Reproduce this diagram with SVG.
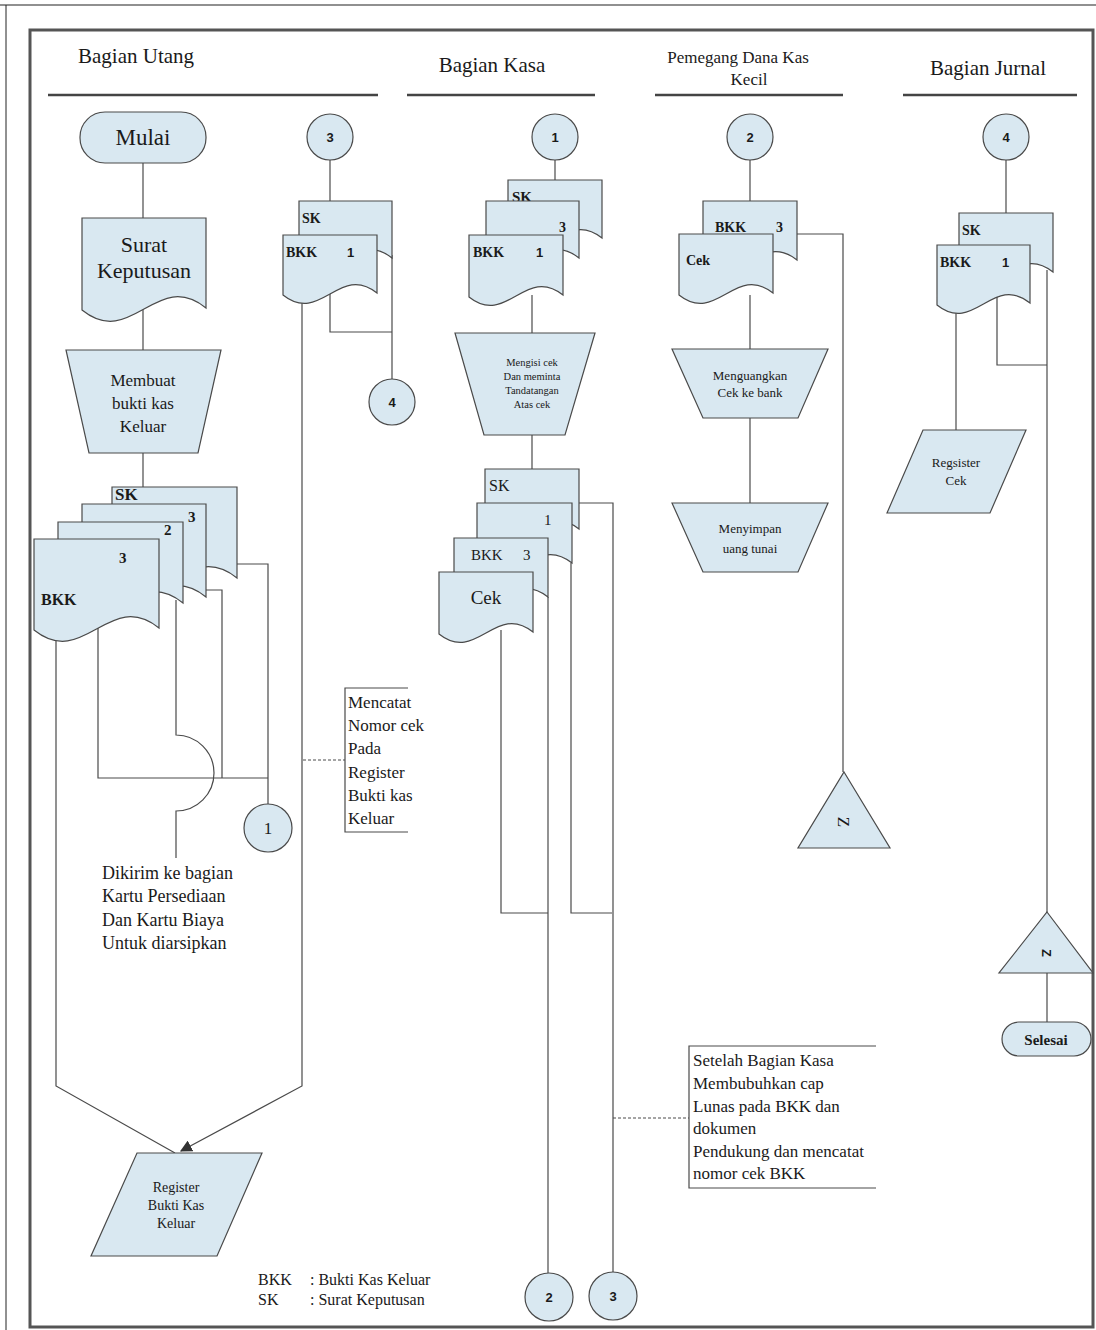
<svg xmlns="http://www.w3.org/2000/svg" width="1096" height="1330" viewBox="0 0 1096 1330">
<style>
.sh{fill:#d9e8f1;stroke:#4a4a4a;stroke-width:1.2}
.ln{fill:none;stroke:#4a4a4a;stroke-width:1.2}
.dash{fill:none;stroke:#4a4a4a;stroke-width:1;stroke-dasharray:3,2}
.hd{font-family:"Liberation Serif",serif;font-size:21px;fill:#1a1a1a}
.t{font-family:"Liberation Serif",serif;fill:#1a1a1a}
.b{font-family:"Liberation Serif",serif;font-weight:bold;fill:#1a1a1a}
.n{font-family:"Liberation Sans",sans-serif;font-weight:bold;fill:#1a1a1a}
.c{text-anchor:middle}
</style>
<defs>
<marker id="arr" viewBox="0 0 10 10" refX="9" refY="5" markerWidth="12" markerHeight="12" orient="auto" markerUnits="userSpaceOnUse">
<path d="M0,0 L10,5 L0,10 Z" fill="#333"/>
</marker>
</defs>
<rect width="1096" height="1330" fill="#fff"/>
<g id="frame">
<line x1="0" y1="5" x2="1096" y2="5" stroke="#222" stroke-width="1.2"/>
<line x1="6" y1="5" x2="6" y2="1330" stroke="#222" stroke-width="1"/>
<rect x="30" y="30" width="1063" height="1297" fill="none" stroke="#555" stroke-width="3"/>
</g>
<g id="headers">
<text class="hd" x="78" y="63">Bagian Utang</text>
<line x1="48" y1="95" x2="378" y2="95" stroke="#444" stroke-width="2.5"/>
<text class="hd c" x="492" y="72">Bagian Kasa</text>
<line x1="407" y1="95" x2="595" y2="95" stroke="#444" stroke-width="2.5"/>
<text class="t c" x="738" y="63" font-size="17">Pemegang Dana Kas</text>
<text class="t c" x="749" y="85" font-size="17">Kecil</text>
<line x1="655" y1="95" x2="843" y2="95" stroke="#444" stroke-width="2.5"/>
<text class="hd c" x="988" y="75">Bagian Jurnal</text>
<line x1="903" y1="95" x2="1077" y2="95" stroke="#444" stroke-width="2.5"/>
</g>
<g id="connectors">
<path class="ln" d="M143,163 V218"/>
<path class="ln" d="M143,308 V350"/>
<path class="ln" d="M143,453 V487"/>
<path class="ln" d="M56,635 V1086 L175,1153"/>
<path class="ln" d="M302,300 V1086 L181,1151" marker-end="url(#arr)"/>
<path class="ln" d="M98,628 V778 H268"/>
<path class="ln" d="M206,590 H222 V778"/>
<path class="ln" d="M237,564 H268 V804"/>
<path class="ln" d="M176,600 V735 A38,38 0 0 1 176,811 V858"/>
<path class="ln" d="M330,160 V201"/>
<path class="ln" d="M392,255 V379"/>
<path class="ln" d="M330,290 V332 H392"/>
<path class="dash" d="M303,760 H345"/>
<path class="ln" d="M408,688 H345 V832 H408"/>
<path class="ln" d="M555,160 V180"/>
<path class="ln" d="M532,295 V333"/>
<path class="ln" d="M532,435 V469"/>
<path class="ln" d="M501,630 V913 H548"/>
<path class="ln" d="M548,597 V1273"/>
<path class="ln" d="M571,563 V913 H612"/>
<path class="ln" d="M579,503 H613 V1272"/>
<path class="dash" d="M613,1118 H689"/>
<path class="ln" d="M876,1046 H689 V1188 H876"/>
<path class="ln" d="M750,160 V201"/>
<path class="ln" d="M797,234 H843 V772"/>
<path class="ln" d="M750,295 V349"/>
<path class="ln" d="M750,418 V503"/>
<path class="ln" d="M1006,160 V213"/>
<path class="ln" d="M997,295 V365 H1047"/>
<path class="ln" d="M1047,270 V912"/>
<path class="ln" d="M956,305 V430"/>
<path class="ln" d="M1047,973 V1022"/>
</g>
<g id="mulai"><rect class="sh" x="80" y="112" width="126" height="51" rx="25"/><text class="t c" x="143" y="145" font-size="23">Mulai</text></g>
<g id="surat-keputusan"><path class="sh" d="M82,218 H206 V308 C156.4,268 131.6,350 82,310 Z"/><text class="t c" x="144" y="252" font-size="22">Surat</text><text class="t c" x="144" y="278" font-size="22">Keputusan</text></g>
<g id="membuat-bkk"><path class="sh" d="M66,350 H221 L198,453 H89 Z"/><text class="t c" x="143" y="386" font-size="17">Membuat</text><text class="t c" x="143" y="409" font-size="17">bukti kas</text><text class="t c" x="143" y="432" font-size="17">Keluar</text></g>
<g id="utang-docs">
<path class="sh" d="M112,487 H237 V578 C187,538 162,620 112,580 Z"/>
<text class="b" x="115" y="500" font-size="17">SK</text>
<path class="sh" d="M82,504 H206 V597 C156.4,557 131.6,639 82,599 Z"/>
<text class="b" x="188" y="522" font-size="15">3</text>
<path class="sh" d="M58,522 H183 V603 C133,563 108,645 58,605 Z"/>
<text class="b" x="164" y="535" font-size="15">2</text>
<path class="sh" d="M34,539 H159 V628 C109,588 84,670 34,630 Z"/>
<text class="b" x="119" y="563" font-size="15">3</text>
<text class="b" x="41" y="605" font-size="16">BKK</text>
</g>
<g id="conn-1-utang"><circle class="sh" cx="268" cy="828" r="24"/><text class="t c" x="268" y="834" font-size="17">1</text></g>
<g id="note-dikirim">
<text class="t" x="102" y="879" font-size="18">Dikirim ke bagian</text>
<text class="t" x="102" y="902" font-size="18">Kartu Persediaan</text>
<text class="t" x="102" y="926" font-size="18">Dan Kartu Biaya</text>
<text class="t" x="102" y="949" font-size="18">Untuk diarsipkan</text>
</g>
<g id="note-mencatat">
<text class="t" x="348" y="708" font-size="17">Mencatat</text>
<text class="t" x="348" y="731" font-size="17">Nomor cek</text>
<text class="t" x="348" y="754" font-size="17">Pada</text>
<text class="t" x="348" y="778" font-size="17">Register</text>
<text class="t" x="348" y="801" font-size="17">Bukti kas</text>
<text class="t" x="348" y="824" font-size="17">Keluar</text>
</g>
<g id="register-bkk"><path class="sh" d="M137,1153 H262 L217,1256 H91 Z"/><text class="t c" x="176" y="1192" font-size="14">Register</text><text class="t c" x="176" y="1210" font-size="14">Bukti Kas</text><text class="t c" x="176" y="1228" font-size="14">Keluar</text></g>
<g id="legend">
<text class="t" x="258" y="1285" font-size="16">BKK</text><text class="t" x="310" y="1285" font-size="16">: Bukti Kas Keluar</text>
<text class="t" x="258" y="1305" font-size="16">SK</text><text class="t" x="310" y="1305" font-size="16">: Surat Keputusan</text>
</g>
<g id="conn-3-top"><circle class="sh" cx="330" cy="137" r="23"/><text class="n c" x="330" y="142" font-size="13">3</text></g>
<g id="utang-docs-2">
<path class="sh" d="M299,201 H392 V258 C354.8,228 336.2,290 299,260 Z"/>
<text class="b" x="302" y="223" font-size="14">SK</text>
<path class="sh" d="M283,235 H377 V293 C339.4,263 320.6,325 283,295 Z"/>
<text class="b" x="286" y="257" font-size="14">BKK</text>
<text class="n" x="347" y="257" font-size="13">1</text>
</g>
<g id="conn-4-utang"><circle class="sh" cx="392" cy="402" r="23"/><text class="n c" x="392" y="407" font-size="13">4</text></g>
<g id="conn-1-kasa"><circle class="sh" cx="555" cy="137" r="23"/><text class="n c" x="555" y="142" font-size="13">1</text></g>
<g id="kasa-docs-1">
<path class="sh" d="M508,180 H602 V238 C564.4,208 545.6,270 508,240 Z"/>
<text class="b" x="512" y="202" font-size="15">SK</text>
<path class="sh" d="M486,201 H579 V258 C541.8,228 523.2,290 486,260 Z"/>
<text class="b" x="559" y="232" font-size="14">3</text>
<path class="sh" d="M469,235 H563 V295 C525.4,265 506.6,327 469,297 Z"/>
<text class="b" x="473" y="257" font-size="14">BKK</text>
<text class="n" x="536" y="257" font-size="13">1</text>
</g>
<g id="mengisi-cek"><path class="sh" d="M455,333 H595 L565,435 H484 Z"/>
<text class="t c" x="532" y="366" font-size="10.5">Mengisi cek</text>
<text class="t c" x="532" y="380" font-size="10.5">Dan meminta</text>
<text class="t c" x="532" y="394" font-size="10.5">Tandatangan</text>
<text class="t c" x="532" y="408" font-size="10.5">Atas cek</text>
</g>
<g id="kasa-docs-2">
<path class="sh" d="M485,469 H579 V529 C541.4,499 522.6,561 485,531 Z"/>
<text class="t" x="489" y="491" font-size="16">SK</text>
<path class="sh" d="M477,503 H572 V563 C534,533 515,595 477,565 Z"/>
<text class="t" x="544" y="525" font-size="15">1</text>
<path class="sh" d="M454,538 H548 V597 C510.4,567 491.6,629 454,599 Z"/>
<text class="t" x="471" y="560" font-size="15">BKK</text>
<text class="t" x="523" y="560" font-size="15">3</text>
<path class="sh" d="M439,572 H533 V632 C495.4,602 476.6,664 439,634 Z"/>
<text class="t c" x="486" y="604" font-size="19">Cek</text>
</g>
<g id="note-setelah">
<text class="t" x="693" y="1066" font-size="17">Setelah Bagian Kasa</text>
<text class="t" x="693" y="1089" font-size="17">Membubuhkan cap</text>
<text class="t" x="693" y="1112" font-size="17">Lunas pada BKK dan</text>
<text class="t" x="693" y="1134" font-size="17">dokumen</text>
<text class="t" x="693" y="1157" font-size="17">Pendukung dan mencatat</text>
<text class="t" x="693" y="1179" font-size="17">nomor cek BKK</text>
</g>
<g id="conn-2-bottom"><circle class="sh" cx="549" cy="1297" r="24"/><text class="n c" x="549" y="1302" font-size="13">2</text></g>
<g id="conn-3-bottom"><circle class="sh" cx="613" cy="1296" r="24"/><text class="n c" x="613" y="1301" font-size="13">3</text></g>
<g id="conn-2-top"><circle class="sh" cx="750" cy="137" r="23"/><text class="n c" x="750" y="142" font-size="13">2</text></g>
<g id="pemegang-docs">
<path class="sh" d="M703,201 H797 V260 C759.4,230 740.6,292 703,262 Z"/>
<text class="b" x="715" y="232" font-size="14">BKK</text>
<text class="b" x="776" y="232" font-size="14">3</text>
<path class="sh" d="M679,234 H773 V293 C735.4,263 716.6,325 679,295 Z"/>
<text class="b" x="686" y="265" font-size="14">Cek</text>
</g>
<g id="menguangkan"><path class="sh" d="M672,349 H828 L798,418 H703 Z"/><text class="t c" x="750" y="380" font-size="13">Menguangkan</text><text class="t c" x="750" y="397" font-size="13">Cek ke bank</text></g>
<g id="menyimpan"><path class="sh" d="M672,503 H828 L798,572 H703 Z"/><text class="t c" x="750" y="533" font-size="13">Menyimpan</text><text class="t c" x="750" y="553" font-size="13">uang tunai</text></g>
<g id="arsip-z-1"><path class="sh" d="M844,772 L890,848 H798 Z"/><text class="t c" x="844" y="828" font-size="17" transform="rotate(90 844 822)">Z</text></g>
<g id="conn-4-top"><circle class="sh" cx="1006" cy="137" r="23"/><text class="n c" x="1006" y="142" font-size="13">4</text></g>
<g id="jurnal-docs">
<path class="sh" d="M959,213 H1053 V272 C1015.4,242 996.6,304 959,274 Z"/>
<text class="b" x="962" y="235" font-size="14">SK</text>
<path class="sh" d="M937,245 H1030 V303 C992.8,273 974.2,335 937,305 Z"/>
<text class="b" x="940" y="267" font-size="14">BKK</text>
<text class="n" x="1002" y="267" font-size="13">1</text>
</g>
<g id="register-cek"><path class="sh" d="M923,430 H1026 L990,513 H887 Z"/><text class="t c" x="956" y="467" font-size="13">Regsister</text><text class="t c" x="956" y="485" font-size="13">Cek</text></g>
<g id="arsip-z-2"><path class="sh" d="M1047,912 L1093,973 H999 Z"/><text class="n c" x="1047" y="958" font-size="13" transform="rotate(90 1047 953)">Z</text></g>
<g id="selesai"><rect class="sh" x="1002" y="1022" width="89" height="34" rx="17"/><text class="b c" x="1046" y="1045" font-size="15">Selesai</text></g>
</svg>
